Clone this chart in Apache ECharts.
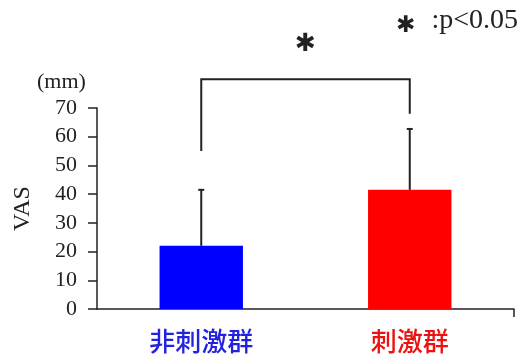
<!DOCTYPE html>
<html>
<head>
<meta charset="utf-8">
<script src="https://cdn.jsdelivr.net/npm/echarts@6/dist/echarts.min.js"></script>
<style>html,body{margin:0;padding:0;background:#fff}#c{width:521px;height:358px}</style>
</head>
<body>
<div id="c"></div>
<script>
// Groups, mean VAS and upper end of the error bar (mean + SD)
var categories = ['非刺激群', '刺激群'];
var means = [22, 41.5];
var errorTops = [41.5, 62.7];
var barColors = ['#0000ff', '#ff0000'];
var labelColors = ['#2222e0', '#ee1111'];
var yTicks = [0, 10, 20, 30, 40, 50, 60, 70];
// Significance bracket: top level and the bottom of each leg
var bracketTop = 80;
var bracketLegs = [55, 68];
var starLevel = 92;

var serif = '"Liberation Serif", "DejaVu Serif", serif';
var chart = echarts.init(document.getElementById('c'));

chart.setOption({
  animation: false,
  grid: { left: 97, right: 7, top: 108, bottom: 49 },
  xAxis: {
    type: 'category',
    data: categories,
    axisLine: { lineStyle: { color: '#222', width: 1.5 } },
    axisTick: { show: false },
    axisLabel: {
      margin: 19,
      fontFamily: '"Noto Sans CJK JP", sans-serif',
      fontSize: 26,
      fontWeight: 500,
      color: function (v, i) { return labelColors[i]; }
    }
  },
  yAxis: {
    type: 'value',
    min: yTicks[0],
    max: yTicks[yTicks.length - 1],
    interval: 10,
    splitLine: { show: false },
    axisLine: { show: true, lineStyle: { color: '#222', width: 1.5 } },
    axisTick: { show: true, length: 9, lineStyle: { color: '#222', width: 1.5 } },
    axisLabel: { margin: 20, fontFamily: serif, fontSize: 22, color: '#222' },
    name: 'VAS',
    nameLocation: 'middle',
    nameGap: 62,
    nameRotate: 90,
    nameTextStyle: { fontFamily: serif, fontSize: 24, color: '#222' }
  },
  graphic: [
    { type: 'text', left: 37, top: 71, style: { text: '(mm)', font: '22px ' + serif, fill: '#222' } },
    { type: 'text', left: 396, top: 15, style: { text: '✱', font: 'bold 23px "DejaVu Sans"', fill: '#222' } },
    { type: 'text', right: 3, top: 7, style: { text: ':p<0.05', font: '28px ' + serif, fill: '#222' } }
  ],
  series: [
    {
      type: 'bar',
      barWidth: '40%',
      data: means.map(function (v, i) { return { value: v, itemStyle: { color: barColors[i] } }; })
    },
    {
      // upper error bars with caps
      type: 'custom',
      data: categories.map(function (c, i) { return [i, means[i], errorTops[i]]; }),
      renderItem: function (params, api) {
        var base = api.coord([api.value(0), api.value(1)]);
        var top = api.coord([api.value(0), api.value(2)]);
        var st = { stroke: '#222', lineWidth: 2 };
        return {
          type: 'group',
          children: [
            { type: 'line', shape: { x1: base[0], y1: base[1], x2: top[0], y2: top[1] }, style: st },
            { type: 'line', shape: { x1: top[0] - 3, y1: top[1], x2: top[0] + 3, y2: top[1] }, style: st }
          ]
        };
      },
      z: 3
    },
    {
      // significance bracket, star, and the right-end tick of the x axis
      type: 'custom',
      data: [[0]],
      renderItem: function (params, api) {
        var l0 = api.coord([0, bracketLegs[0]]);
        var r0 = api.coord([1, bracketLegs[1]]);
        var lt = api.coord([0, bracketTop]);
        var rt = api.coord([1, bracketTop]);
        var starY = api.coord([0, starLevel])[1];
        var starX = (lt[0] + rt[0]) / 2;
        var cs = params.coordSys;
        var origin = api.coord([0, 0]);
        var st = { stroke: '#222', lineWidth: 2, fill: null };
        return {
          type: 'group',
          children: [
            { type: 'polyline', shape: { points: [l0, lt, rt, r0] }, style: st },
            { type: 'text', x: starX, y: starY, style: { text: '✱', font: 'bold 25px "DejaVu Sans"', fill: '#222', align: 'center', verticalAlign: 'middle' } },
            { type: 'line', shape: { x1: cs.x + cs.width, y1: origin[1], x2: cs.x + cs.width, y2: origin[1] + 8 }, style: { stroke: '#222', lineWidth: 1.5 } }
          ]
        };
      },
      z: 3
    }
  ]
});
</script>
</body>
</html>
